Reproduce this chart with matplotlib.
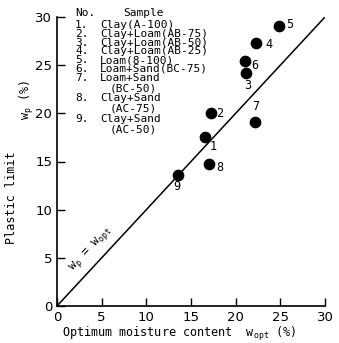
import numpy as np
import matplotlib
matplotlib.use("Agg")
import matplotlib.pyplot as plt

# sample data
sample_no = ["1", "2", "3", "4", "5", "6", "7", "8", "9"]
w_opt = [16.6, 17.2, 21.2, 22.3, 24.8, 21.0, 22.2, 17.0, 13.6]
w_p = [17.5, 20.0, 24.2, 27.3, 29.1, 25.4, 19.1, 14.7, 13.6]
sample_names = ["Clay(A-100)", "Clay+Loam(AB-75)", "Clay+Loam(AB-50)",
                "Clay+Loam(AB-25)", "Loam(8-100)", "Loam+Sand(BC-75)",
                "Loam+Sand", "Clay+Sand", "Clay+Sand"]
sample_sub = ["", "", "", "", "", "", "(BC-50)", "(AC-75)", "(AC-50)"]
ticks = [0, 5, 10, 15, 20, 25, 30]

# label offsets in points (dx, dy), centred
offsets = [(5.5, -6.5), (6.7, 0), (0.7, -9.1), (9.4, -1.2), (7.9, 0.7),
           (7.2, -2.9), (0, 11.3), (7.9, -2.2), (-1.2, -8.4)]

mono = "DejaVu Sans Mono"
plt.rcParams["mathtext.fontset"] = "dejavusans"

W, H = 339, 343
fig = plt.figure(figsize=(W / 100, H / 100), dpi=100)
ax = fig.add_axes([57 / W, 1 - 306 / H, 268 / W, 289 / H])

ax.plot([0, 30], [0, 30], color="black", lw=1.1)
ax.scatter(w_opt, w_p, s=55, color="black", zorder=3)
for n, x, y, (dx, dy) in zip(sample_no, w_opt, w_p, offsets):
    ax.annotate(n, (x, y), xytext=(dx, dy), textcoords="offset points",
                fontsize=8.5, family=mono, va="center", ha="center")

ax.set_xlim(0, 30)
ax.set_ylim(0, 30)
ax.set_xticks(ticks)
ax.set_yticks(ticks)
ax.tick_params(direction="in", length=6, width=1, labelsize=9.5)
for s in ["top", "right"]:
    ax.spines[s].set_visible(False)
for s in ["left", "bottom"]:
    ax.spines[s].set_linewidth(1.2)


def ptext(x, y, s, **kw):
    # place text by pixel position from the top-left corner
    fig.text(x / W, 1 - y / H, s, family=mono, fontsize=8, va="center", **kw)


# legend table as text
ptext(75, 13, "No.")
ptext(123, 13, "Sample")
row = 25
for n, name, sub in zip(sample_no, sample_names, sample_sub):
    ptext(75, row, n + ".")
    ptext(100, row, name)
    if sub:
        row += 10.5
        ptext(110, row, sub)
        row += 10
    else:
        row += 8.8

ax.text(3.8, 5.9, r"$\mathtt{w_p}$ = $\mathtt{w_{opt}}$", fontsize=8.5,
        family=mono, rotation=47, ha="center", va="center",
        rotation_mode="anchor")

ax.set_xlabel(r"Optimum moisture content  $\mathtt{w_{opt}}$ (%)",
              family=mono, fontsize=8.5, labelpad=1)
ax.xaxis.set_label_coords(0.455, -0.065)
fig.text(0.035, 0.425, "Plastic limit", rotation=90, family=mono,
         fontsize=8.5, ha="center", va="center")
fig.text(0.08, 0.71, r"$\mathtt{w_p}$ (%)", rotation=90, family=mono,
         fontsize=8.5, ha="center", va="center")

fig.savefig("out.png", dpi=100)
